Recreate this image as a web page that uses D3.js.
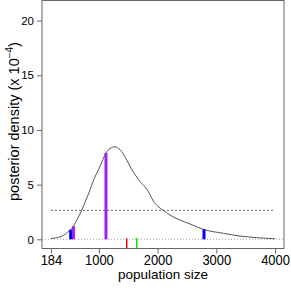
<!DOCTYPE html>
<html><head><meta charset="utf-8">
<script src="https://cdn.jsdelivr.net/npm/d3@7/dist/d3.min.js"></script>
<style>body{margin:0;background:#fff}svg{display:block}text{font-family:"Liberation Sans",Arial,Helvetica,sans-serif;fill:#000}</style>
</head><body><svg id="c" width="291" height="291"></svg>
<script>
// density curve (population size, density x 1e-4)
const curveX = [184, 337, 422, 508, 567, 627, 707, 780, 848, 916, 990, 1053, 1121, 1189, 1274, 1360, 1474, 1547, 1644, 1700, 1760, 1814, 1870, 1927, 2007, 2097, 2211, 2381, 2552, 2778, 3119, 3403, 3688, 4000];
const curveY = [0.08, 0.22, 0.45, 0.85, 1.2, 1.8, 2.65, 3.6, 4.5, 5.5, 6.33, 7.1, 7.9, 8.3, 8.46, 8.2, 7.25, 6.5, 5.7, 5.27, 4.95, 4.6, 4.1, 3.5, 3.0, 2.65, 2.22, 1.76, 1.4, 0.91, 0.55, 0.3, 0.15, 0.05];
// markers
const blueX = [520, 2790];
const blueH = [0.88, 0.91];
const purpleX = [567, 1121];
const purpleH = [1.2, 7.9];
const redX = [1474];
const greenX = [1644];
const rugTop = 0.1;
const threshold = 2.65;
const xTicks = [184, 1000, 2000, 3000, 4000];
const yTicks = [0, 5, 10, 15, 20];
const xLabel = "population size";

const svg = d3.select("#c");
const L = 42, R = 284, T = 0.5, B = 248.5;
const xMin = 184, xMax = 4000, yMin = 0, yMax = 21;
const xp = (xMax - xMin) * 0.04, yp = (yMax - yMin) * 0.04;
const x = d3.scaleLinear().domain([xMin - xp, xMax + xp]).range([L, R]);
const y = d3.scaleLinear().domain([yMin - yp, yMax + yp]).range([B, T]);

// zero dotted line
svg.append("line").attr("x1", L).attr("x2", R).attr("y1", y(0)).attr("y2", y(0))
  .attr("stroke", "#aaa").attr("stroke-width", 1).attr("stroke-dasharray", "1,2");
// threshold dashed line
svg.append("line").attr("x1", x(xMin)).attr("x2", x(xMax)).attr("y1", y(threshold)).attr("y2", y(threshold))
  .attr("stroke", "#666").attr("stroke-width", 1).attr("stroke-dasharray", "2,2");

// curve
const pts = curveX.map((v, i) => [v, curveY[i]]);
svg.append("path").datum(pts)
  .attr("d", d3.line().x(d => x(d[0])).y(d => y(d[1])).curve(d3.curveMonotoneX))
  .attr("fill", "none").attr("stroke", "#555").attr("stroke-width", 1);

// bars
function bars(xs, hs, color, w) {
  svg.append("g").selectAll("line").data(xs).join("line")
    .attr("x1", d => x(d)).attr("x2", d => x(d))
    .attr("y1", y(0)).attr("y2", (d, i) => y(hs[i]))
    .attr("stroke", color).attr("stroke-width", w);
}
bars(blueX, blueH, "#0000ff", 3);
bars(purpleX, purpleH, "#a020f0", 3);
function rugs(xs, color) {
  svg.append("g").selectAll("line").data(xs).join("line")
    .attr("x1", d => x(d)).attr("x2", d => x(d))
    .attr("y1", B).attr("y2", y(rugTop))
    .attr("stroke", color).attr("stroke-width", 1.5);
}
rugs(redX, "#ff0000");
rugs(greenX, "#00dd00");

// box
svg.append("rect").attr("x", L).attr("y", T).attr("width", R - L).attr("height", B - T)
  .attr("fill", "none").attr("stroke", "#666").attr("stroke-width", 1);

// axes
const xa = svg.append("g").attr("transform", `translate(0,${B})`)
  .call(d3.axisBottom(x).tickValues(xTicks).tickSize(5).tickPadding(1.5).tickFormat(d3.format("d")));
xa.select(".domain").remove();
xa.selectAll("line").attr("stroke", "#666");
xa.selectAll("text").style("font-size", "14px").attr("fill", "#000")
  .attr("textLength", d => String(d).length * 7.2).attr("lengthAdjust", "spacingAndGlyphs");

const ya = svg.append("g").attr("transform", `translate(${L},0)`)
  .call(d3.axisLeft(y).tickValues(yTicks).tickSize(5).tickPadding(3));
ya.select(".domain").remove();
ya.selectAll("line").attr("stroke", "#666");
ya.selectAll("text").style("font-size", "11.5px").attr("fill", "#000");

// labels
svg.append("text").attr("x", (L + R) / 2).attr("y", 279).attr("text-anchor", "middle")
  .style("font-size", "13.5px").text(xLabel);
const yl = svg.append("text").attr("transform", `translate(19,${(T + B) / 2 - 3}) rotate(-90)`)
  .attr("text-anchor", "middle").style("font-size", "14.5px");
yl.append("tspan").text("posterior density (x 10");
yl.append("tspan").attr("dy", -6).style("font-size", "10px").text("\u22124");
yl.append("tspan").attr("dy", 6).text(")");
</script></body></html>
